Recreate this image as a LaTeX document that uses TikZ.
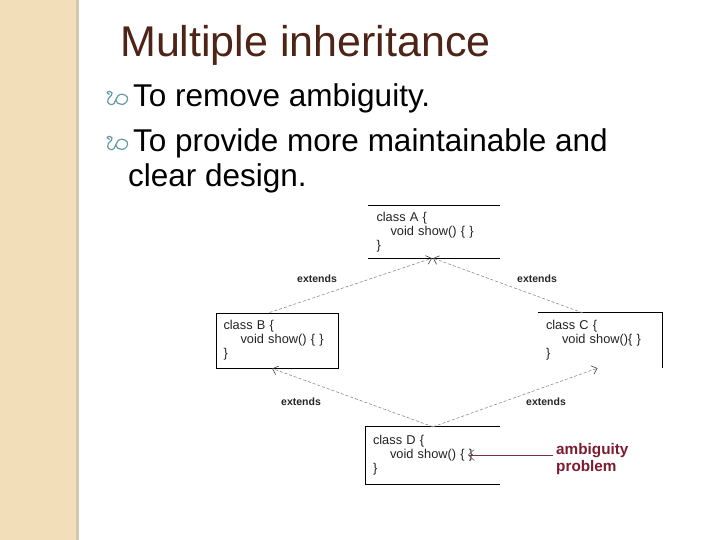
\documentclass[tikz,border=0pt]{standalone}
\usepackage{fontspec}
\setmainfont{Liberation Sans}
\usetikzlibrary{arrows.meta,calc}
\definecolor{beige}{RGB}{242,223,185}
\definecolor{beigeedge}{RGB}{212,200,172}
\definecolor{titlebrown}{RGB}{78,36,22}
\definecolor{bulteal}{RGB}{100,155,165}
\definecolor{ambred}{RGB}{125,28,48}
\definecolor{ambline}{RGB}{120,50,65}
\definecolor{dashgray}{RGB}{140,140,140}
\definecolor{codegray}{RGB}{35,35,35}
\begin{document}
\begin{tikzpicture}[x=1pt,y=-1pt,
  cls/.style={inner xsep=8pt, inner ysep=0pt, align=left,
    font=\fontsize{12.8pt}{14pt}\selectfont, text=codegray},
  border/.style={black, line width=1pt},
  ext/.style={inner sep=0pt, font=\fontsize{10.5pt}{12pt}\selectfont\bfseries, text=black!85},
  inh/.style={dashgray, line width=0.6pt, dash pattern=on 3pt off 2pt,
    -{Straight Barb[length=5pt,width=9pt,line width=0.6pt,color=black!75]}},
  bul/.style={bulteal, line width=1.2pt, line cap=round, line join=round},
  bigtext/.style={anchor=base west, inner sep=0pt, font=\fontsize{31.5pt}{37pt}\selectfont, text=black}
]
\useasboundingbox (0,0) rectangle (720,540);
\fill[white] (0,0) rectangle (720,540);
\fill[beige] (0,0) rectangle (76,540);
\fill[beigeedge] (76,0) rectangle (79,540);

% title
\node[anchor=base west, inner sep=0pt, font=\fontsize{43pt}{50pt}\selectfont, text=titlebrown] (title) at (120,57) {Multiple inheritance};

% bullet text
\node[bigtext] (l1) at (133,107) {To remove ambiguity.};
\node[bigtext] (l2) at (133,152) {To provide more maintainable and};
\node[bigtext] (l3) at (128,187) {clear design.};

% bullets
\foreach \by in {91,136}{
\begin{scope}[shift={(105,\by)}, scale=1.08]
\draw[bul] plot[smooth, tension=0.7] coordinates {(4,3) (2,1.5) (4,0.3) (6.5,1.5) (6,4) (3,7) (2.5,10) (5,12.5) (8.5,11.5) (10,8) (12,4.5) (16,3) (20.5,5.5) (20,10) (16,12.5) (12,11.5) (10,8)};
\end{scope}
}

% classes
\node[cls, minimum width=132pt, minimum height=52pt, text width=115pt, inner xsep=8.5pt] (A) at (434,232)
  {class A \{\\\hspace*{14pt}void show() \{ \}\\\}};
\node[cls, draw=black, line width=1pt, minimum width=122pt, minimum height=55pt, text width=107pt, inner xsep=7.5pt] (B) at (277,340.5)
  {class B \{\\\hspace*{17pt}void show() \{ \}\\\}};
\node[cls, minimum width=124pt, minimum height=55pt, text width=108pt] (C) at (600,340.5)
  {class C \{\\\hspace*{16pt}void show()\{ \}\\\}};
\node[cls, minimum width=134pt, minimum height=57pt, text width=120pt, inner xsep=7pt] (D) at (433,455.5)
  {class D \{\\\hspace*{17pt}void show() \{ \}\\\}};

\draw[border] (A.north west) -- (A.north east);
\draw[border] (A.south west) -- (A.south east);
\draw[border] (C.north west) -- (C.north east) -- (C.south east);
\draw[border] (D.north east) -- (D.north west) -- (D.south west) -- (D.south east);

% inheritance connectors
\draw[inh] ($(B.north west)!0.44!(B.north east)$) -- ($(A.south)+(-2,0)$);
\draw[inh] ($(C.north west)!0.36!(C.north east)$) -- ($(A.south)+(-1,0)$);
\draw[inh] (D.north) -- ($(B.south west)!0.46!(B.south east)$);
\draw[inh] (D.north) -- ($(C.south west)!0.48!(C.south east)$);

\node[ext] (e1) at (317,279) {extends};
\node[ext] (e2) at (537,279) {extends};
\node[ext] (e3) at (301,402) {extends};
\node[ext] (e4) at (546,402) {extends};

% ambiguity note
\node[anchor=west, inner sep=0pt, align=left, font=\fontsize{15.3pt}{17pt}\selectfont\bfseries, text=ambred] (amb) at (556,459.5) {ambiguity\\problem};
\draw[ambline, line width=0.8pt, -{Straight Barb[length=6pt,width=11pt,line width=0.6pt,color=black!60]}]
  ($(amb.west)+(-3,-4.5)$) -- ($(D.west)+(102,-0.5)$);
\end{tikzpicture}
\end{document}
